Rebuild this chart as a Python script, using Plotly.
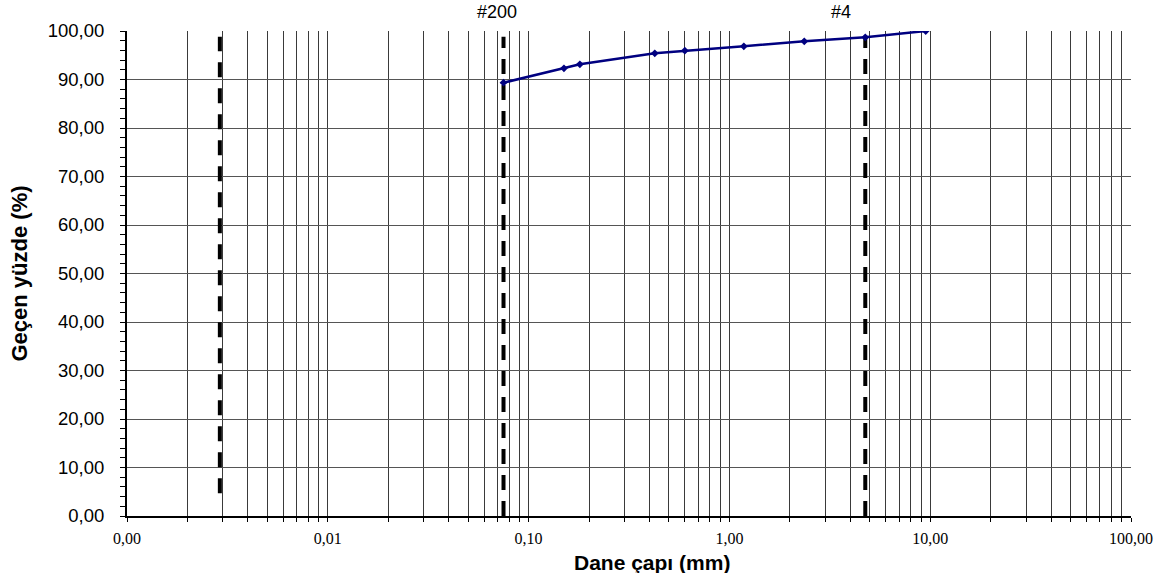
import math
import plotly.graph_objects as go

# Sieve analysis: grain size (mm) vs. percent passing
sieve_mm = [0.075, 0.15, 0.18, 0.425, 0.6, 1.18, 2.36, 4.75, 9.5]
passing_pct = [89.34, 92.31, 93.13, 95.40, 95.94, 96.85, 97.88, 98.70, 100.0]

# Reference sieve lines (dashed verticals)
ref_line_mm = [0.0029, 0.075, 4.75]
ref_line_bottom = [4.7, 0.0, 0.0]
ref_line_top = [98.8, 98.8, 98.8]
ref_line_label = ["", "#200", "#4"]
ref_label_shift = [0, -7, -24]

# Log axis: grid at every 1..9 multiple, labels only at decades
decades = [-3, -2, -1, 0, 1]
decade_labels = ["0,00", "0,01", "0,10", "1,00", "10,00", "100,00"]

x_tickvals, x_ticktext = [], []
for i, d in enumerate(decades):
    for k in range(1, 10):
        x_tickvals.append(k * 10 ** d)
        x_ticktext.append(decade_labels[i] if k == 1 else "")
x_tickvals.append(100)
x_ticktext.append(decade_labels[-1])

fig = go.Figure()

for xm, y0, y1 in zip(ref_line_mm, ref_line_bottom, ref_line_top):
    fig.add_trace(go.Scatter(
        x=[xm, xm], y=[y0, y1], mode="lines",
        line=dict(color="black", width=4, dash="15px,11px"),
        hoverinfo="skip", showlegend=False,
    ))

fig.add_trace(go.Scatter(
    x=sieve_mm, y=passing_pct, mode="lines+markers",
    line=dict(color="#000080", width=2.5),
    marker=dict(symbol="diamond", size=6, color="#000080"),
    showlegend=False,
))

for xm, lab, sh in zip(ref_line_mm, ref_line_label, ref_label_shift):
    if lab:
        fig.add_annotation(
            x=math.log10(xm), xref="x", y=1, yref="paper",
            yanchor="bottom", yshift=7, xshift=sh, text=lab, showarrow=False,
            font=dict(family="Liberation Sans, Arial", size=18, color="black"),
        )

fig.add_annotation(
    x=0.523, xref="paper", y=-0.095, yref="paper", yanchor="middle",
    text="<b>Dane çapı (mm)</b>", showarrow=False,
    font=dict(family="Liberation Sans, Arial", size=21, color="black"),
)

fig.update_xaxes(
    type="log", range=[-3, 2],
    tickmode="array", tickvals=x_tickvals, ticktext=x_ticktext,
    ticks="outside", ticklen=4, tickcolor="black", tickwidth=1,
    ticklabelstandoff=3,
    tickfont=dict(family="Liberation Serif, Times New Roman", size=16, color="black"),
    showgrid=True, gridcolor="#3a3a3a", gridwidth=1,
    showline=True, linecolor="black", linewidth=2,
    zeroline=False,
)

fig.update_yaxes(
    range=[0, 100], dtick=10, tickformat=".2f",
    ticks="outside", ticklen=5, tickcolor="black", tickwidth=1,
    ticklabelstandoff=12,
    minor=dict(dtick=2, ticks="outside", ticklen=5, tickcolor="black", showgrid=False),
    tickfont=dict(family="Liberation Sans, Arial", size=18.5, color="black"),
    showgrid=True, gridcolor="#555555", gridwidth=1,
    showline=True, linecolor="black", linewidth=2,
    zeroline=False,
    title=dict(text="<b>Geçen yüzde (%)</b>", standoff=14,
               font=dict(family="Liberation Sans, Arial", size=22, color="black")),
)

fig.update_layout(
    width=1165, height=573,
    margin=dict(l=127, r=32, t=31, b=57),
    paper_bgcolor="white", plot_bgcolor="white",
    separators=",.",
)

fig.write_html("out.html")
